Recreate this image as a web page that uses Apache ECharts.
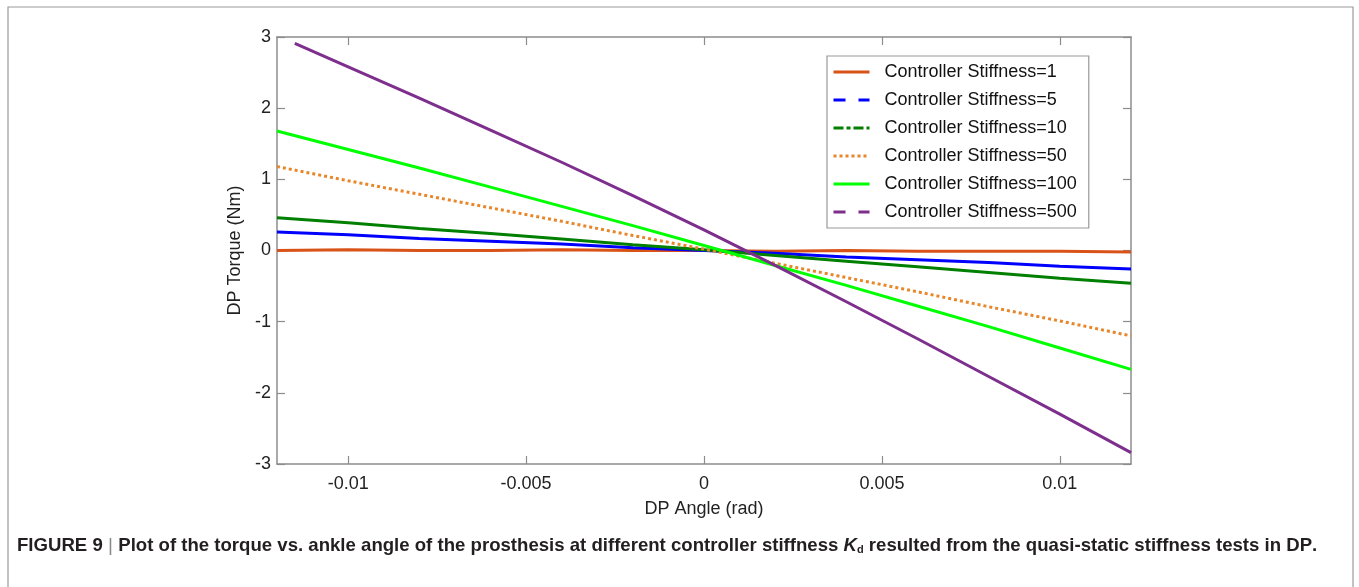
<!DOCTYPE html>
<html>
<head>
<meta charset="utf-8">
<script src="https://cdn.jsdelivr.net/npm/echarts@6/dist/echarts.min.js"></script>
<style>
html,body{margin:0;padding:0;background:#fff;}
#c{width:1359px;height:587px;}
</style>
</head>
<body>
<div id="c"></div>
<script>
// ---- data ----
const angle = [-0.012,-0.010,-0.008,-0.006,-0.004,-0.002,0,0.002,0.004,0.006,0.008,0.010,0.012];
const angle500 = [-0.0115,-0.010,-0.008,-0.006,-0.004,-0.002,0,0.002,0.004,0.006,0.008,0.010,0.012];
const k1   = [0.00,0.01,0.00,0.00,0.01,0.00,0.00,-0.01,0.00,-0.01,-0.01,-0.01,-0.02];
const k5   = [0.26,0.22,0.17,0.13,0.09,0.04,0.00,-0.04,-0.09,-0.13,-0.17,-0.22,-0.26];
const k10  = [0.46,0.39,0.31,0.24,0.16,0.08,0.01,-0.07,-0.15,-0.23,-0.31,-0.39,-0.46];
const k50  = [1.18,0.98,0.79,0.60,0.41,0.21,0.02,-0.18,-0.38,-0.58,-0.79,-0.99,-1.20];
const k100 = [1.68,1.42,1.16,0.89,0.62,0.35,0.07,-0.21,-0.49,-0.78,-1.07,-1.37,-1.67];
const k500 = [2.91,2.58,2.14,1.69,1.24,0.77,0.29,-0.21,-0.72,-1.24,-1.77,-2.30,-2.84];
const seriesNames = ['Controller Stiffness=1','Controller Stiffness=5','Controller Stiffness=10','Controller Stiffness=50','Controller Stiffness=100','Controller Stiffness=500'];
const xTicks = [-0.01,-0.005,0,0.005,0.01];
const xTickLabels = ['-0.01','-0.005','0','0.005','0.01'];
const xName = 'DP Angle (rad)';
const yName = 'DP Torque (Nm)';

const pair = (xs, ys) => xs.map((x, i) => [x, ys[i]]);
const colors = ['#D95319','#0000FF','#007F00','#E8862A','#00FF00','#7E2F8E'];
const plotTypes = ['solid','solid','solid',[3,3],'solid','solid'];
const legendTypes = ['solid',[12,13],[10,3,4,3],[3,3],'solid',[12,13]];
const datasets = [pair(angle,k1),pair(angle,k5),pair(angle,k10),pair(angle,k50),pair(angle,k100),pair(angle500,k500)];

const font = 'Liberation Sans, Arial, sans-serif';
const axisCol = '#8c8c8c';
const chart = echarts.init(document.getElementById('c'), null, {renderer:'canvas'});

const xLabelFmt = v => { const i = xTicks.findIndex(t => Math.abs(t - v) < 1e-9); return i >= 0 ? xTickLabels[i] : ''; };

chart.setOption({
  animation: false,
  backgroundColor: '#fff',
  title: {
    left: 12, top: 531,
    text: '{b|FIGURE 9}{s| | }{b|Plot of the torque vs. ankle angle of the prosthesis at different controller stiffness }{k|K}{d|d}{b| resulted from the quasi-static stiffness tests in DP}{b|.}',
    textStyle: {
      rich: {
        b: {fontFamily: font, fontWeight: 'bold', fontSize: 18.6, color: '#231f20'},
        s: {fontFamily: font, fontWeight: 'normal', fontSize: 19, color: '#888'},
        k: {fontFamily: font, fontWeight: 'bold', fontStyle: 'italic', fontSize: 18.6, color: '#231f20'},
        d: {fontFamily: font, fontWeight: 'bold', fontSize: 11, color: '#231f20', verticalAlign: 'bottom', padding: [7,0,0,0]}
      }
    }
  },
  graphic: [{
    type: 'rect', silent: true, z: -1,
    shape: {x: 8, y: 7, width: 1345, height: 600},
    style: {fill: 'none', stroke: '#9a9a9a', lineWidth: 1.2}
  }],
  grid: {left: 277, top: 37, right: 228, bottom: 123, containLabel: false},
  legend: {
    orient: 'vertical', left: 827, top: 56,
    backgroundColor: '#fff', borderColor: '#999', borderWidth: 1.2,
    padding: [7, 12, 7, 5],
    itemWidth: 36, itemHeight: 16, itemGap: 10,
    textStyle: {fontFamily: font, fontSize: 18, color: '#111', padding: [0,0,0,10]},
    data: seriesNames.map((n, i) => ({
      name: n,
      lineStyle: {type: legendTypes[i], width: 3, color: colors[i]},
      itemStyle: {opacity: 0, color: 'rgba(0,0,0,0)', borderWidth: 0}
    }))
  },
  xAxis: [{
    type: 'value', min: -0.012, max: 0.012, position: 'bottom',
    name: xName, nameLocation: 'middle', nameGap: 36,
    nameTextStyle: {fontFamily: font, fontSize: 18, color: '#222'},
    axisLine: {show: true, onZero: false, lineStyle: {color: axisCol, width: 1.5}},
    axisTick: {show: true, inside: true, length: 8, customValues: xTicks, lineStyle: {color: axisCol, width: 1.2}},
    axisLabel: {customValues: xTicks, formatter: xLabelFmt, fontFamily: font, fontSize: 18, color: '#222', margin: 11},
    splitLine: {show: false}
  }, {
    type: 'value', min: -0.012, max: 0.012, position: 'top',
    axisLine: {show: true, onZero: false, lineStyle: {color: axisCol, width: 1.5}},
    axisTick: {show: true, inside: true, length: 8, customValues: xTicks, lineStyle: {color: axisCol, width: 1.2}},
    axisLabel: {show: false},
    splitLine: {show: false}
  }],
  yAxis: [{
    type: 'value', min: -3, max: 3, interval: 1, position: 'left',
    name: yName, nameLocation: 'middle', nameGap: 30, nameRotate: 90,
    nameTextStyle: {fontFamily: font, fontSize: 18, color: '#222'},
    axisLine: {show: true, onZero: false, lineStyle: {color: axisCol, width: 1.5}},
    axisTick: {show: true, inside: true, length: 8, lineStyle: {color: axisCol, width: 1.2}},
    axisLabel: {fontFamily: font, fontSize: 18, color: '#222', margin: 6},
    splitLine: {show: false}
  }, {
    type: 'value', min: -3, max: 3, interval: 1, position: 'right',
    axisLine: {show: true, onZero: false, lineStyle: {color: axisCol, width: 1.5}},
    axisTick: {show: true, inside: true, length: 8, lineStyle: {color: axisCol, width: 1.2}},
    axisLabel: {show: false},
    splitLine: {show: false}
  }],
  series: seriesNames.map((n, i) => ({
    name: n, type: 'line', xAxisIndex: 0, yAxisIndex: 0,
    data: datasets[i], showSymbol: false, symbol: 'none',
    lineStyle: {color: colors[i], width: 3, type: plotTypes[i]},
    itemStyle: {color: colors[i]},
    emphasis: {disabled: true}
  }))
});
</script>
</body>
</html>
